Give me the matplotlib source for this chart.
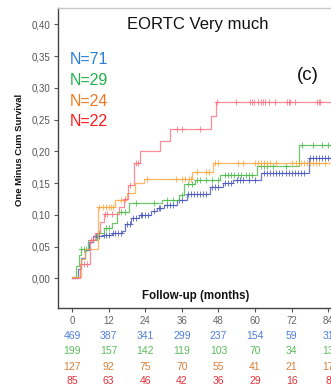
import matplotlib
matplotlib.use("Agg")
import matplotlib.pyplot as plt
import numpy as np

plt.rcParams['font.family'] = ['Liberation Sans', 'DejaVu Sans']

# step curves (event time in months, cumulative 1 - survival after the step)
blue_t = [0, 2.0, 2.8, 4.4, 5.5, 7.0, 10, 13, 16.5, 17.5, 19.5, 22, 26, 28, 30, 34.4, 37.7, 45.4, 49.6, 52.9, 62, 77.6]
blue_v = [0, 0.015, 0.032, 0.045, 0.058, 0.066, 0.069, 0.071, 0.074, 0.085, 0.095, 0.100, 0.106, 0.111, 0.115, 0.123, 0.133, 0.144, 0.150, 0.155, 0.166, 0.189]
blue_cens = [8, 9, 10.5, 11, 12, 13.5, 14, 15, 16, 18, 19, 20, 21, 22.5, 23, 24, 25, 27, 28.5, 29, 31, 32, 33,
             35, 36, 38, 39, 40, 41, 42, 43, 44, 46, 47, 48, 50, 51, 52, 54, 55, 56, 58, 60, 63, 64, 65, 66,
             67, 68, 69, 70, 71, 72, 73, 74, 75, 76, 78, 79, 80, 81, 82, 83, 84, 85, 86, 87]

green_t = [0, 1.4, 2.3, 2.8, 5.4, 8.2, 10.4, 13.1, 14.8, 18.6, 29.5, 35, 36.6, 40.4, 48.6, 60.7, 74.3]
green_v = [0.002, 0.020, 0.037, 0.046, 0.060, 0.071, 0.079, 0.087, 0.105, 0.118, 0.123, 0.131, 0.148, 0.155, 0.163, 0.177, 0.210]
green_cens = [3, 3.8, 4.6, 9, 11, 12, 16, 17.5, 21, 27, 31, 33, 36, 38, 39.5, 41, 42, 44, 46, 48, 50, 51, 52,
              53, 54.5, 55.5, 57, 58, 59, 62, 63, 64, 66, 70, 75.5, 79, 82, 84, 86, 87, 88, 89]

orange_t = [0, 2.8, 4.4, 8.5, 14, 18, 20.8, 23.5, 39.5, 46.2]
orange_v = [0.002, 0.030, 0.047, 0.113, 0.123, 0.135, 0.150, 0.156, 0.168, 0.181]
orange_cens = [9, 10, 11, 12, 12.8, 13.5, 16, 24.5, 34, 36, 37, 38.5, 39, 41, 44, 45, 47, 48, 54.5, 56, 60, 61,
               62, 63, 64, 65, 67, 72, 73.5, 75, 76, 77, 78, 79, 80, 81, 83, 86, 87.5, 90]

red_t = [0, 2.7, 5.8, 7.5, 9.3, 10.4, 15.5, 17, 18.5, 20.2, 22.4, 29, 32.2, 45.7, 47.3]
red_v = [0, 0.023, 0.060, 0.072, 0.089, 0.101, 0.112, 0.125, 0.147, 0.181, 0.200, 0.216, 0.235, 0.255, 0.277]
red_cens = [3.8, 4.8, 6.2, 6.8, 10.8, 11.5, 13, 17.5, 19, 21, 21.7, 34.5, 36, 41.8, 47.6, 53.9, 58.5, 59,
            59.6, 60.9, 61.8, 62.6, 63.4, 64.5, 66.7, 70.5, 71, 71.6, 73.2, 80.3, 80.9, 81.4, 86, 90, 93]

# numbers at risk
risk_months = [0, 12, 24, 36, 48, 60, 72, 84]
blue_risk = [469, 387, 341, 299, 237, 154, 59, 31]
green_risk = [199, 157, 142, 119, 103, 70, 34, 13]
orange_risk = [127, 92, 75, 70, 55, 41, 21, 17]
red_risk = [85, 63, 46, 42, 36, 29, 16, 8]

labels = ["N=71", "N=29", "N=24", "N=22"]
line_colors = ["#4a58c0", "#4cbc4c", "#ffa640", "#ff7080"]
text_colors = ["#2a7fd4", "#22b04a", "#f07a22", "#ff1a1a"]
risk_colors = ["#4f7fd6", "#5cbc5c", "#d9803a", "#e0303a"]

fig = plt.figure(figsize=(3.31, 3.85), dpi=100)
ax = fig.add_axes([58 / 331, 77 / 385, 319 / 331, 300 / 385])

series = [(blue_t, blue_v, blue_cens), (green_t, green_v, green_cens),
          (orange_t, orange_v, orange_cens), (red_t, red_v, red_cens)]
x_end = 100
for (t, v, cens), col in zip(series, line_colors):
    t = np.array(t + [x_end])
    v = np.array(v + [v[-1]])
    ax.step(t, v, where='post', color=col, lw=0.9, alpha=0.8)
    c = np.array(cens)
    cy = v[np.searchsorted(t, c, side='right') - 1]
    ax.plot(c, cy, ls='none', marker='+', ms=4, mew=0.7, color=col, alpha=0.8)

ax.set_xlim(-4.6, x_end)
ax.set_ylim(-0.0466, 0.4258)
ax.set_yticks(np.arange(0, 0.41, 0.05))
ax.set_yticklabels([("%.2f" % y).replace(".", ",") for y in np.arange(0, 0.41, 0.05)])
ax.set_xticks(np.arange(0, 97, 12))
ax.tick_params(axis='both', direction='out', length=3, width=0.8, colors='#555555', labelsize=7, pad=2.5)
ax.tick_params(axis='x', labelcolor='#666666')

ax.spines['right'].set_visible(False)
ax.spines['top'].set_color('#c8c8c8')
ax.spines['left'].set_color('#444444')
ax.spines['bottom'].set_color('#444444')
for s in ['top', 'left', 'bottom']:
    ax.spines[s].set_linewidth(1.0)

fig.text(127 / 331, 1 - 24 / 385, "EORTC Very much", ha='left', va='center', fontsize=12, color='#111111')
fig.text(297 / 331, 1 - 75 / 385, "(c)", ha='left', va='center', fontsize=13.5, color='#111111')
for i, (lab, col) in enumerate(zip(labels, text_colors)):
    fig.text(70 / 331, 1 - (59.5 + i * 20.8) / 385, lab, ha='left', va='center', fontsize=11.5, color=col)

fig.text(196 / 331, 1 - 296 / 385, "Follow-up (months)", ha='center', va='center', fontsize=8.3,
         fontweight='bold', color='#111111')
fig.text(20 / 331, 1 - 150 / 385, "One Minus Cum Survival", ha='center', va='center', rotation=90,
         fontsize=6.8, fontweight='bold', color='#111111')

# the last column is cut by the right edge, as in the reference
rows = [blue_risk, green_risk, orange_risk, red_risk]
row_y = [336, 351, 366.5, 381.5]
trans = ax.get_xaxis_transform()
for vals, col, yp in zip(rows, risk_colors, row_y):
    for m, n in zip(risk_months, vals):
        ax.text(m, (308 - yp) / 300, str(n), transform=trans, ha='center', va='center',
                fontsize=7.5, color=col, clip_on=False)

fig.savefig("out.png", dpi=100)
